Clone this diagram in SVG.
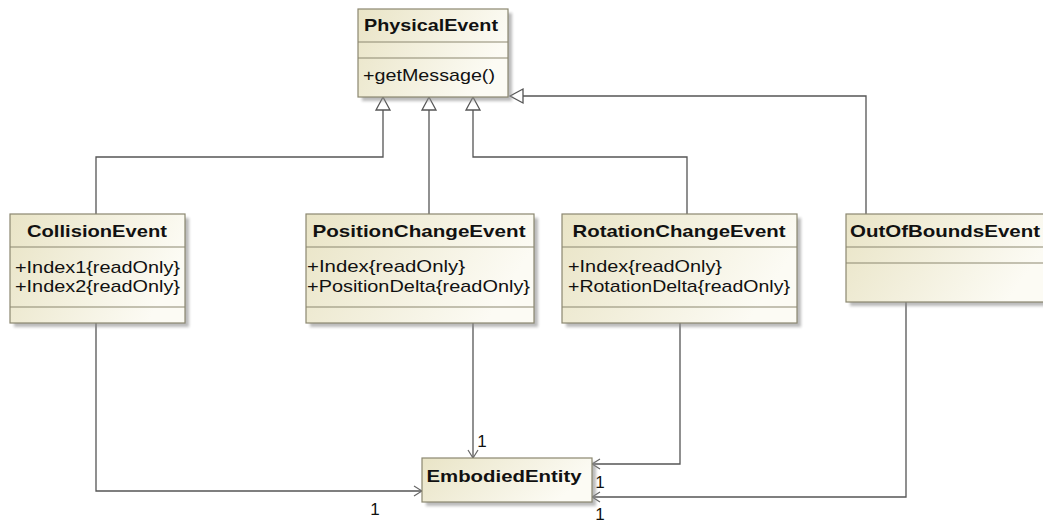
<svg xmlns="http://www.w3.org/2000/svg" width="1043" height="522" viewBox="0 0 1043 522">
  <defs>
    <linearGradient id="boxFill" x1="0" y1="0" x2="1" y2="0.3">
      <stop offset="0" stop-color="#e9e4c6"/>
      <stop offset="1" stop-color="#fcfbf4"/>
    </linearGradient>
    <filter id="shadowBlur" x="-10%" y="-10%" width="130%" height="130%">
      <feGaussianBlur stdDeviation="1.5"/>
    </filter>
    <marker id="hollowTri" viewBox="0 0 14 16" refX="0" refY="8" markerWidth="14" markerHeight="16" markerUnits="userSpaceOnUse" orient="auto">
      <path d="M13,8 L0,0 M13,8 L0,16 M0,0 L0,16" fill="none" stroke="#555" stroke-width="1.3"/>
    </marker>
    <marker id="openArrow" viewBox="0 0 10 12" refX="9" refY="6" markerWidth="10" markerHeight="12" markerUnits="userSpaceOnUse" orient="auto">
      <path d="M1,1 L9,6 L1,11" fill="none" stroke="#666" stroke-width="1.2"/>
    </marker>
  </defs>
  <style>
    .shadow { fill: #8c8c8c; opacity: 0.6; filter: url(#shadowBlur); }
    .box { fill: url(#boxFill); stroke: #8b8770; stroke-width: 1.2; }
    .sep { stroke: #8b8770; stroke-width: 1.2; }
    .name { font-family: "Liberation Sans", Arial, sans-serif; font-weight: bold; font-size: 17px; fill: #111; text-anchor: middle; }
    .attr { font-family: "Liberation Sans", Arial, sans-serif; font-size: 17px; fill: #111; }
    .mult { font-family: "Liberation Sans", Arial, sans-serif; font-size: 17px; fill: #111; text-anchor: middle; }
    .gen { fill: none; stroke: #555; stroke-width: 1.3; }
    .assoc { fill: none; stroke: #555; stroke-width: 1.3; }
  </style>

  <!-- connectors -->
  <g id="connectors">
    <!-- generalizations to PhysicalEvent -->
    <path class="gen" d="M96,214 V157 H383 V110"/>
    <path class="gen" d="M429,214 V110"/>
    <path class="gen" d="M687,214 V157 H473 V110"/>
    <path class="gen" d="M866,214 V96 H523"/>
    <g fill="#fff" stroke="#555" stroke-width="1.3">
      <path d="M383,97 L376,110 L390,110 Z"/>
      <path d="M429,97 L422,110 L436,110 Z"/>
      <path d="M473,97 L466,110 L480,110 Z"/>
      <path d="M510,96 L523,89 L523,103 Z"/>
    </g>
    <!-- associations to EmbodiedEntity -->
    <path class="assoc" d="M96,323 V491 H422" marker-end="url(#openArrow)"/>
    <path class="assoc" d="M473,323 V458" marker-end="url(#openArrow)"/>
    <path class="assoc" d="M680,323 V464 H592" marker-end="url(#openArrow)"/>
    <path class="assoc" d="M906,302 V497 H592" marker-end="url(#openArrow)"/>
    <text class="mult" x="482" y="447">1</text>
    <text class="mult" x="375" y="515">1</text>
    <text class="mult" x="600" y="488">1</text>
    <text class="mult" x="600" y="520">1</text>
  </g>

  <!-- PhysicalEvent -->
  <g id="PhysicalEvent">
    <rect class="shadow" x="362" y="13" width="150" height="88"/>
    <rect class="box" x="358" y="9" width="150" height="88"/>
    <line class="sep" x1="358" y1="42" x2="508" y2="42"/>
    <line class="sep" x1="358" y1="58" x2="508" y2="58"/>
    <text class="name" x="431" y="31" textLength="134" lengthAdjust="spacingAndGlyphs">PhysicalEvent</text>
    <text class="attr" x="363" y="81" textLength="132" lengthAdjust="spacingAndGlyphs">+getMessage()</text>
  </g>

  <!-- CollisionEvent -->
  <g id="CollisionEvent">
    <rect class="shadow" x="14" y="218" width="175" height="109"/>
    <rect class="box" x="10" y="214" width="175" height="109"/>
    <line class="sep" x1="10" y1="247" x2="185" y2="247"/>
    <line class="sep" x1="10" y1="307" x2="185" y2="307"/>
    <text class="name" x="97" y="237" textLength="140" lengthAdjust="spacingAndGlyphs">CollisionEvent</text>
    <text class="attr" x="15" y="273" textLength="165" lengthAdjust="spacingAndGlyphs">+Index1{readOnly}</text>
    <text class="attr" x="15" y="292" textLength="165" lengthAdjust="spacingAndGlyphs">+Index2{readOnly}</text>
  </g>

  <!-- PositionChangeEvent -->
  <g id="PositionChangeEvent">
    <rect class="shadow" x="310" y="218" width="228" height="109"/>
    <rect class="box" x="306" y="214" width="228" height="109"/>
    <line class="sep" x1="306" y1="247" x2="534" y2="247"/>
    <line class="sep" x1="306" y1="307" x2="534" y2="307"/>
    <text class="name" x="419" y="237" textLength="213" lengthAdjust="spacingAndGlyphs">PositionChangeEvent</text>
    <text class="attr" x="307" y="272" textLength="158" lengthAdjust="spacingAndGlyphs">+Index{readOnly}</text>
    <text class="attr" x="307" y="292" textLength="223" lengthAdjust="spacingAndGlyphs">+PositionDelta{readOnly}</text>
  </g>

  <!-- RotationChangeEvent -->
  <g id="RotationChangeEvent">
    <rect class="shadow" x="566" y="218" width="235" height="109"/>
    <rect class="box" x="562" y="214" width="235" height="109"/>
    <line class="sep" x1="562" y1="247" x2="797" y2="247"/>
    <line class="sep" x1="562" y1="307" x2="797" y2="307"/>
    <text class="name" x="679" y="237" textLength="213" lengthAdjust="spacingAndGlyphs">RotationChangeEvent</text>
    <text class="attr" x="568" y="272" textLength="154" lengthAdjust="spacingAndGlyphs">+Index{readOnly}</text>
    <text class="attr" x="568" y="292" textLength="222" lengthAdjust="spacingAndGlyphs">+RotationDelta{readOnly}</text>
  </g>

  <!-- OutOfBoundsEvent (extends past the right edge) -->
  <g id="OutOfBoundsEvent">
    <rect class="shadow" x="850" y="218" width="204" height="88"/>
    <rect class="box" x="846" y="214" width="204" height="88"/>
    <line class="sep" x1="846" y1="247" x2="1050" y2="247"/>
    <line class="sep" x1="846" y1="263" x2="1050" y2="263"/>
    <text class="name" x="945" y="237" textLength="190" lengthAdjust="spacingAndGlyphs">OutOfBoundsEvent</text>
  </g>

  <!-- EmbodiedEntity -->
  <g id="EmbodiedEntity">
    <rect class="shadow" x="426" y="462" width="170" height="44"/>
    <rect class="box" x="422" y="458" width="170" height="44"/>
    <text class="name" x="504" y="482" textLength="155" lengthAdjust="spacingAndGlyphs">EmbodiedEntity</text>
  </g>
</svg>
